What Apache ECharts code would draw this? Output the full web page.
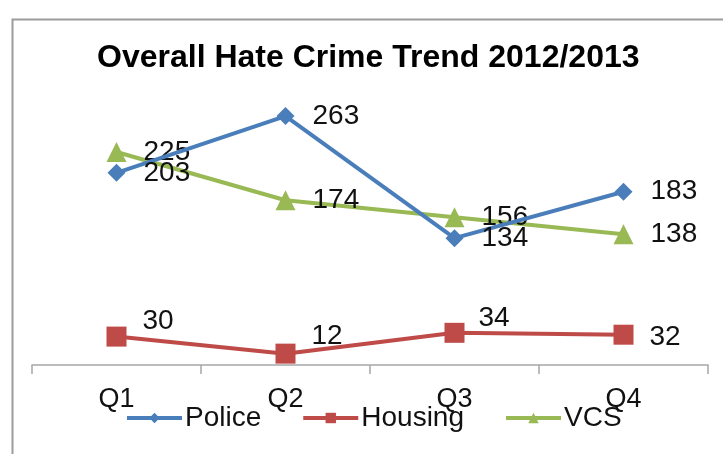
<!DOCTYPE html>
<html>
<head>
<meta charset="utf-8">
<style>
  html, body { margin: 0; padding: 0; background: #ffffff; }
  #chart { width: 723px; height: 454px; }
</style>
<script src="https://cdn.jsdelivr.net/npm/echarts@6/dist/echarts.min.js"></script>
</head>
<body>
<div id="chart"></div>
<script>
// Quarterly hate crime reports, 2012/2013
const quarters = ['Q1', 'Q2', 'Q3', 'Q4'];
const police = [203, 263, 134, 183];
const housing = [30, 12, 34, 32];
const vcs = [225, 174, 156, 138];

// Housing labels sit a little above their markers, except the last one
const housingLabelOffsets = [[0, -15], [0, -17], [-2, -15], [0, 3]];

const FONT = '"Liberation Sans", Arial, sans-serif';
const labelStyle = {
  show: true,
  position: 'right',
  fontFamily: FONT,
  fontSize: 28,
  color: '#111111'
};

const chart = echarts.init(document.getElementById('chart'), null, { renderer: 'canvas' });

chart.setOption({
  animation: false,
  backgroundColor: '#ffffff',
  title: {
    text: 'Overall Hate Crime Trend 2012/2013',
    left: 97,
    top: 42,
    padding: 0,
    textStyle: {
      fontFamily: FONT,
      fontWeight: 'bold',
      fontSize: 32,
      color: '#000000'
    }
  },
  graphic: [{
    type: 'rect',
    left: 10,
    top: 17,
    shape: { width: 800, height: 520 },
    style: { fill: 'none', stroke: '#9c9c9c', lineWidth: 2 },
    silent: true,
    z: -1
  }],
  legend: {
    data: ['Police', 'Housing', 'VCS'],
    left: 125,
    top: 404,
    padding: 0,
    itemWidth: 55,
    itemHeight: 13,
    itemGap: 40,
    lineStyle: { width: 4 },
    textStyle: { fontFamily: FONT, fontSize: 28, color: '#111111', padding: [0, 0, 0, -2] }
  },
  grid: { left: 32, right: 15, top: 81, bottom: 89 },
  xAxis: {
    type: 'category',
    data: quarters,
    boundaryGap: true,
    axisLine: { lineStyle: { color: '#a6a6a6', width: 1.5 } },
    axisTick: { show: true, length: 9, alignWithLabel: false, lineStyle: { color: '#a6a6a6', width: 1.5 } },
    axisLabel: { fontFamily: FONT, fontSize: 27, color: '#111111', margin: 21 },
    splitLine: { show: false }
  },
  yAxis: {
    type: 'value',
    min: 0,
    max: 300,
    show: false,
    splitLine: { show: false }
  },
  series: [
    {
      name: 'Police',
      type: 'line',
      data: police,
      symbol: 'diamond',
      symbolSize: 18,
      color: '#4a7ebb',
      lineStyle: { width: 4, color: '#4a7ebb' },
      itemStyle: { color: '#4a7ebb' },
      label: Object.assign({}, labelStyle, { distance: 18 }),
      z: 3
    },
    {
      name: 'Housing',
      type: 'line',
      data: housing.map((v, i) => ({
        value: v,
        label: { offset: housingLabelOffsets[i] }
      })),
      symbol: 'rect',
      symbolSize: 20,
      color: '#be4b48',
      lineStyle: { width: 4, color: '#be4b48' },
      itemStyle: { color: '#be4b48' },
      label: Object.assign({}, labelStyle, { distance: 16 }),
      z: 2
    },
    {
      name: 'VCS',
      type: 'line',
      data: vcs,
      symbol: 'triangle',
      symbolSize: 20,
      color: '#98b954',
      lineStyle: { width: 4, color: '#98b954' },
      itemStyle: { color: '#98b954' },
      label: Object.assign({}, labelStyle, { distance: 17 }),
      z: 2
    }
  ]
});
</script>
</body>
</html>
